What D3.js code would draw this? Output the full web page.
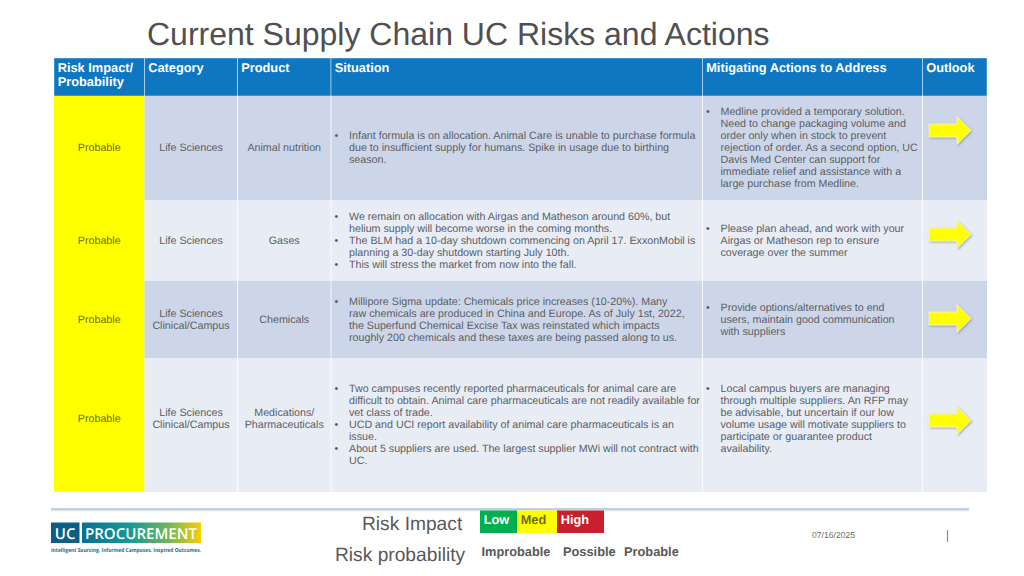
<!DOCTYPE html>
<html>
<head>
<meta charset="utf-8">
<script src="https://cdn.jsdelivr.net/npm/d3@7"></script>
<style>
  html, body { margin: 0; padding: 0; background: #fff; }
  svg { display: block; font-family: "Liberation Sans", Arial, sans-serif; text-rendering: geometricPrecision; }
</style>
</head>
<body>
<svg id="Viz" width="1024" height="576"></svg>
<script>
// table content
let headers = [["Risk Impact/", "Probability"], ["Category"], ["Product"], ["Situation"], ["Mitigating Actions to Address"], ["Outlook"]];
// a trailing "" is a blank last line in the cell, it pushes the text up
let risks = [["Probable"], ["Probable"], ["Probable"], ["Probable", ""]];
let categories = [["Life Sciences"], ["Life Sciences"], ["Life Sciences", "Clinical/Campus"], ["Life Sciences", "Clinical/Campus", ""]];
let products = [["Animal nutrition"], ["Gases"], ["Chemicals"], ["Medications/", "Pharmaceuticals", ""]];
// "* " starts a bullet
let situations = [
  ["* Infant formula is on allocation. Animal Care is unable to purchase formula", "due to insufficient supply for humans. Spike in usage due to birthing", "season."],
  ["* We remain on allocation with Airgas and Matheson around 60%, but", "helium supply will become worse in the coming months.", "* The BLM had a 10-day shutdown commencing on April 17. ExxonMobil is", "planning a 30-day shutdown starting July 10th.", "* This will stress the market from now into the fall."],
  ["* Millipore Sigma update: Chemicals price increases (10-20%). Many", "raw chemicals are produced in China and Europe. As of July 1st, 2022,", "the Superfund Chemical Excise Tax was reinstated which impacts", "roughly 200 chemicals and these taxes are being passed along to us."],
  ["* Two campuses recently reported pharmaceuticals for animal care are", "difficult to obtain. Animal care pharmaceuticals are not readily available for", "vet class of trade.", "* UCD and UCI report availability of animal care pharmaceuticals is an", "issue.", "* About 5 suppliers are used. The largest supplier MWi will not contract with", "UC."]
];
let actions = [
  ["* Medline provided a temporary solution.", "Need to change packaging volume and", "order only when in stock to prevent", "rejection of order. As a second option, UC", "Davis Med Center can support for", "immediate relief and assistance with a", "large purchase from Medline."],
  ["* Please plan ahead, and work with your", "Airgas or Matheson rep to ensure", "coverage over the summer"],
  ["* Provide options/alternatives to end", "users, maintain good communication", "with suppliers"],
  ["* Local campus buyers are managing", "through multiple suppliers.  An RFP may", "be advisable, but uncertain if our low", "volume usage will motivate suppliers to", "participate or guarantee product", "availability.", ""]
];
let impactLevels = ["Low", "Med", "High"];
let probLevels = ["Improbable", "Possible", "Probable"];

// layout
let colEdges = [54, 144.5, 237.5, 331, 702.5, 922.5, 987];
let rowEdges = [58, 96, 200, 281, 358, 492];
let lineH = 11.95;
let bodySize = 10.7;
let textCol = "#5b5e66";

let vizArea = d3.select("#Viz");
let defs = vizArea.append("defs");

let grad = defs.append("linearGradient").attr("id", "logoGrad");
grad.append("stop").attr("offset", "0%").attr("stop-color", "#0a6f95");
grad.append("stop").attr("offset", "40%").attr("stop-color", "#139a96");
grad.append("stop").attr("offset", "72%").attr("stop-color", "#6fb55a");
grad.append("stop").attr("offset", "100%").attr("stop-color", "#f7d000");

let shadow = defs.append("filter").attr("id", "arrowShadow").attr("x", "-20%").attr("y", "-20%").attr("width", "150%").attr("height", "150%");
shadow.append("feDropShadow").attr("dx", 1).attr("dy", 1).attr("stdDeviation", 0.8).attr("flood-color", "#777").attr("flood-opacity", 0.6);

let xCol = d3.scaleOrdinal().domain(d3.range(7)).range(colEdges);
let yRow = d3.scaleOrdinal().domain(d3.range(6)).range(rowEdges);

// title
vizArea.append("text")
  .attr("x", 147).attr("y", 45)
  .attr("font-size", 32).attr("fill", "#505050")
  .text("Current Supply Chain UC Risks and Actions");

// header row
let head = vizArea.append("g");
head.selectAll("rect")
  .data(headers)
  .enter()
  .append("rect")
  .attr("x", (d, i) => xCol(i))
  .attr("y", yRow(0))
  .attr("width", (d, i) => xCol(i + 1) - xCol(i))
  .attr("height", yRow(1) - yRow(0))
  .attr("fill", "#0f77c1")
  .attr("stroke", "#ffffff")
  .attr("stroke-opacity", 0.55)
  .attr("stroke-width", 0.8);
headers.forEach(function (lines, i) {
  lines.forEach(function (l, j) {
    head.append("text")
      .attr("x", xCol(i) + 3.7)
      .attr("y", 71.5 + j * 14.3)
      .attr("font-size", 12.8).attr("font-weight", "bold").attr("fill", "#ffffff")
      .text(l);
  });
});

// body cells
function centred(g, lines, cx, cy, col) {
  lines.forEach(function (l, j) {
    g.append("text")
      .attr("x", cx)
      .attr("y", cy + (j - (lines.length - 1) / 2) * lineH + 3.7)
      .attr("text-anchor", "middle")
      .attr("font-size", bodySize).attr("fill", col)
      .text(l);
  });
}
function bullets(g, lines, x, cy) {
  lines.forEach(function (l, j) {
    let y = cy + (j - (lines.length - 1) / 2) * lineH + 3.7;
    let hasBullet = l.startsWith("* ");
    if (hasBullet) {
      g.append("text").attr("x", x + 3.5).attr("y", y).attr("font-size", bodySize).attr("fill", textCol).text("•");
    }
    g.append("text").attr("x", x + 18).attr("y", y).attr("font-size", bodySize).attr("fill", textCol)
      .text(hasBullet ? l.slice(2) : l);
  });
}

risks.forEach(function (r, i) {
  let g = vizArea.append("g");
  let y0 = yRow(i + 1), y1 = yRow(i + 2), cy = (y0 + y1) / 2 - 0.5;
  let band = i % 2 == 0 ? "#cdd6e8" : "#e8ecf5";
  d3.range(6).forEach(function (c) {
    g.append("rect")
      .attr("x", xCol(c)).attr("y", y0)
      .attr("width", xCol(c + 1) - xCol(c)).attr("height", y1 - y0)
      .attr("fill", c == 0 ? "#ffff00" : band);
  });
  d3.range(1, 6).forEach(function (c) {
    g.append("line")
      .attr("x1", xCol(c)).attr("x2", xCol(c))
      .attr("y1", y0).attr("y2", y1)
      .attr("stroke", "#ffffff").attr("stroke-opacity", c == 1 ? 0 : 0.75).attr("stroke-width", 1);
  });
  centred(g, r, (xCol(0) + xCol(1)) / 2, cy, "#6d6d12");
  centred(g, categories[i], (xCol(1) + xCol(2)) / 2, cy, textCol);
  centred(g, products[i], (xCol(2) + xCol(3)) / 2, cy, textCol);
  bullets(g, situations[i], xCol(3), cy);
  bullets(g, actions[i], xCol(4), cy);
});

// outlook arrows, all pointing right
let arrowY = [130.5, 234.5, 318.5, 420.5];
let arrowShape = [[0, -6.5], [28, -6.5], [28, -14], [42, 0], [28, 14], [28, 6.5], [0, 6.5]];
vizArea.selectAll(".arrow")
  .data(arrowY)
  .enter()
  .append("polygon")
  .attr("class", "arrow")
  .attr("transform", d => "translate(929," + d + ")")
  .attr("points", arrowShape.map(p => p.join(",")).join(" "))
  .attr("fill", "#ffff00")
  .attr("stroke", "#f4f4e6")
  .attr("stroke-width", 0.8)
  .attr("filter", "url(#arrowShadow)");

// footer rule
vizArea.append("line").attr("x1", 51).attr("x2", 969).attr("y1", 510).attr("y2", 510)
  .attr("stroke", "#dfe3ea").attr("stroke-width", 2.5);
vizArea.append("line").attr("x1", 51).attr("x2", 969).attr("y1", 509).attr("y2", 509)
  .attr("stroke", "#a8c9de").attr("stroke-width", 1.5);

// logo
vizArea.append("rect").attr("x", 51).attr("y", 522.5).attr("width", 28.5).attr("height", 20.5).attr("fill", "#0b5f85");
vizArea.append("rect").attr("x", 82).attr("y", 522.5).attr("width", 119).attr("height", 20.5).attr("fill", "url(#logoGrad)");
vizArea.append("text").attr("x", 65.2).attr("y", 538.5).attr("text-anchor", "middle")
  .attr("font-family", "Open Sans").attr("font-size", 15).attr("font-weight", 600).attr("fill", "#fff").text("UC");
vizArea.append("text").attr("x", 85).attr("y", 538.5)
  .attr("font-family", "Open Sans").attr("font-size", 15).attr("font-weight", 600).attr("fill", "#fff")
  .attr("textLength", 112).attr("lengthAdjust", "spacingAndGlyphs").text("PROCUREMENT");
vizArea.append("text").attr("x", 51).attr("y", 551.5)
  .attr("font-family", "Open Sans").attr("font-size", 5.5).attr("font-weight", 700).attr("fill", "#1b6b8c")
  .attr("textLength", 150).attr("lengthAdjust", "spacingAndGlyphs").text("Intelligent Sourcing. Informed Campuses. Inspired Outcomes.");

// legend
vizArea.append("text").attr("x", 362).attr("y", 529.5).attr("font-size", 19.2).attr("fill", "#595959").text("Risk Impact");
vizArea.append("text").attr("x", 335).attr("y", 561).attr("font-size", 19.2).attr("fill", "#595959").text("Risk probability");

let impactX = d3.scaleOrdinal().domain(d3.range(4)).range([480, 517, 557, 604]);
let impactCol = d3.scaleOrdinal().domain(impactLevels).range(["#00b050", "#ffff00", "#c9202f"]);
let impactText = d3.scaleOrdinal().domain(impactLevels).range(["#ffffff", "#6d6d12", "#ffffff"]);
impactLevels.forEach(function (l, i) {
  vizArea.append("rect")
    .attr("x", impactX(i)).attr("y", 510.5)
    .attr("width", impactX(i + 1) - impactX(i)).attr("height", 22.5)
    .attr("fill", impactCol(l));
  vizArea.append("text")
    .attr("x", impactX(i) + 3.7).attr("y", 523.8)
    .attr("font-size", 12.8).attr("font-weight", "bold").attr("fill", impactText(l))
    .text(l);
});
let probX = d3.scaleOrdinal().domain(probLevels).range([481.5, 563, 624]);
probLevels.forEach(function (l) {
  vizArea.append("text")
    .attr("x", probX(l)).attr("y", 556.3)
    .attr("font-size", 12.8).attr("font-weight", "bold").attr("fill", "#595959")
    .text(l);
});

// date and slide marker
vizArea.append("text").attr("x", 812).attr("y", 538).attr("font-size", 8.6).attr("fill", "#6b6b6b").text("07/16/2025");
vizArea.append("line").attr("x1", 947.5).attr("x2", 947.5).attr("y1", 530).attr("y2", 542)
  .attr("stroke", "#6f9cc4").attr("stroke-width", 1.3);
</script>
</body>
</html>
